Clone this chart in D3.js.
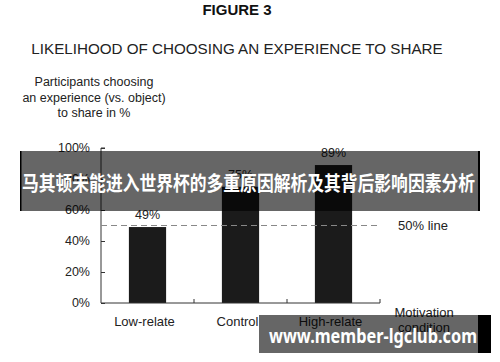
<!DOCTYPE html>
<html>
<head>
<meta charset="utf-8">
<script src="https://cdn.jsdelivr.net/npm/d3@7"></script>
<style>
  body { margin: 0; background: #fff; }
  text { font-family: "Liberation Sans", Arial, sans-serif; }
</style>
</head>
<body>
<script>
// Width and height of the svg
var w = 500;
var h = 362;

// chart data
var categories = ["Low-relate", "Control", "High-relate"];
var shares = [49, 75, 89];
var yTicks = [0, 20, 40, 60, 80, 100];
var refLine = 50;

var svg = d3.select("body")
        .append("svg")
        .attr("width", w)
        .attr("height", h);

// scales
var y = d3.scaleLinear().domain([0, 100]).range([303, 148]);
var x = d3.scaleBand()
        .domain(categories)
        .range([101, 380])
        .paddingInner(0.6)
        .paddingOuter(0.3);
var step = x.step();

// headings
svg.append("text")
    .attr("x", 237).attr("y", 15)
    .attr("text-anchor", "middle")
    .attr("font-size", 15).attr("font-weight", "bold")
    .attr("fill", "#111")
    .text("FIGURE 3");

svg.append("text")
    .attr("x", 237).attr("y", 54)
    .attr("text-anchor", "middle")
    .attr("font-size", 15.2)
    .attr("fill", "#222")
    .text("LIKELIHOOD OF CHOOSING AN EXPERIENCE TO SHARE");

var yLabel = ["Participants choosing", "an experience (vs. object)", "to share in %"];
svg.selectAll("text.ylab")
    .data(yLabel)
    .enter()
    .append("text")
    .attr("class", "ylab")
    .attr("x", 94)
    .attr("y", function(d, i) { return 86 + i * 15.5; })
    .attr("text-anchor", "middle")
    .attr("font-size", 12.5)
    .attr("fill", "#222")
    .text(function(d) { return d; });

// y axis, ticks point inward
var yAxis = svg.append("g")
    .attr("transform", "translate(101,0)")
    .call(d3.axisRight(y).tickValues(yTicks).tickSize(4).tickFormat(""));
yAxis.select(".domain").attr("stroke", "#333").attr("d", "M4," + y(100) + "H0V" + y(0));
yAxis.selectAll(".tick line").attr("stroke", "#333");

svg.selectAll("text.ytick")
    .data(yTicks)
    .enter()
    .append("text")
    .attr("class", "ytick")
    .attr("x", 90)
    .attr("y", function(d) { return y(d) + 4; })
    .attr("text-anchor", "end")
    .attr("font-size", 12.5)
    .attr("fill", "#222")
    .text(function(d) { return d + "%"; });

// bars
svg.selectAll("rect.bar")
    .data(shares)
    .enter()
    .append("rect")
    .attr("class", "bar")
    .attr("x", function(d, i) { return x(categories[i]); })
    .attr("y", function(d) { return y(d); })
    .attr("width", x.bandwidth())
    .attr("height", function(d) { return y(0) - y(d); })
    .attr("fill", "#1b1b1b");

// x axis with ticks at band boundaries
svg.append("line")
    .attr("x1", 101).attr("x2", 380)
    .attr("y1", y(0)).attr("y2", y(0))
    .attr("stroke", "#333");
svg.selectAll("line.xtick")
    .data(categories)
    .enter()
    .append("line")
    .attr("class", "xtick")
    .attr("x1", function(d) { return x(d) - x.bandwidth() * 0.75 + step; })
    .attr("x2", function(d) { return x(d) - x.bandwidth() * 0.75 + step; })
    .attr("y1", y(0) - 4).attr("y2", y(0))
    .attr("stroke", "#333");

// 50% reference line
svg.append("line")
    .attr("x1", 101).attr("x2", 380)
    .attr("y1", y(refLine)).attr("y2", y(refLine))
    .attr("stroke", "#888")
    .attr("stroke-width", 1.2)
    .attr("stroke-dasharray", "6,4");
svg.append("text")
    .attr("x", 398).attr("y", y(refLine) + 4.5)
    .attr("font-size", 13)
    .attr("fill", "#222")
    .text(refLine + "% line");

// value labels
svg.selectAll("text.val")
    .data(shares)
    .enter()
    .append("text")
    .attr("class", "val")
    .attr("x", function(d, i) { return x(categories[i]) + x.bandwidth() / 2; })
    .attr("y", function(d) { return y(d) - 8; })
    .attr("text-anchor", "middle")
    .attr("font-size", 12.5)
    .attr("fill", "#222")
    .text(function(d) { return d + "%"; });

// category labels
svg.selectAll("text.cat")
    .data(categories)
    .enter()
    .append("text")
    .attr("class", "cat")
    .attr("x", function(d) { return x(d) + x.bandwidth() / 2 - 3; })
    .attr("y", 326)
    .attr("text-anchor", "middle")
    .attr("font-size", 13)
    .attr("fill", "#222")
    .text(function(d) { return d; });

svg.selectAll("text.xlab")
    .data(["Motivation", "condition"])
    .enter()
    .append("text")
    .attr("class", "xlab")
    .attr("x", 424)
    .attr("y", function(d, i) { return 317 + i * 15; })
    .attr("text-anchor", "middle")
    .attr("font-size", 13)
    .attr("fill", "#222")
    .text(function(d) { return d; });

// overlay banners on top of the picture
svg.append("rect")
    .attr("x", 20).attr("y", 151)
    .attr("width", 460).attr("height", 60)
    .attr("fill", "rgba(0,0,0,0.6)");
svg.append("rect")
    .attr("x", 20).attr("y", 151).attr("width", 1.5).attr("height", 60).attr("fill", "#000");
svg.append("rect")
    .attr("x", 478).attr("y", 151).attr("width", 2).attr("height", 60).attr("fill", "#000");
svg.append("text")
    .attr("x", 22).attr("y", 191)
    .style("font-family", "'Noto Sans CJK SC', sans-serif")
    .attr("font-size", 20.5).attr("font-weight", "bold")
    .attr("textLength", 453)
    .attr("lengthAdjust", "spacingAndGlyphs")
    .attr("fill", "#fff")
    .text("马其顿未能进入世界杯的多重原因解析及其背后影响因素分析");

svg.append("rect")
    .attr("x", 259).attr("y", 315)
    .attr("width", 219).attr("height", 38)
    .attr("fill", "rgba(0,0,0,0.6)");
svg.append("rect")
    .attr("x", 478).attr("y", 315)
    .attr("width", 13).attr("height", 38)
    .attr("fill", "#000");
svg.append("text")
    .attr("x", 269).attr("y", 343)
    .style("font-family", "'Noto Sans', 'DejaVu Sans', sans-serif")
    .attr("font-size", 20).attr("font-weight", "bold")
    .attr("textLength", 208)
    .attr("lengthAdjust", "spacingAndGlyphs")
    .attr("fill", "#fff")
    .text("www.member-lgclub.com");
</script>
</body>
</html>
